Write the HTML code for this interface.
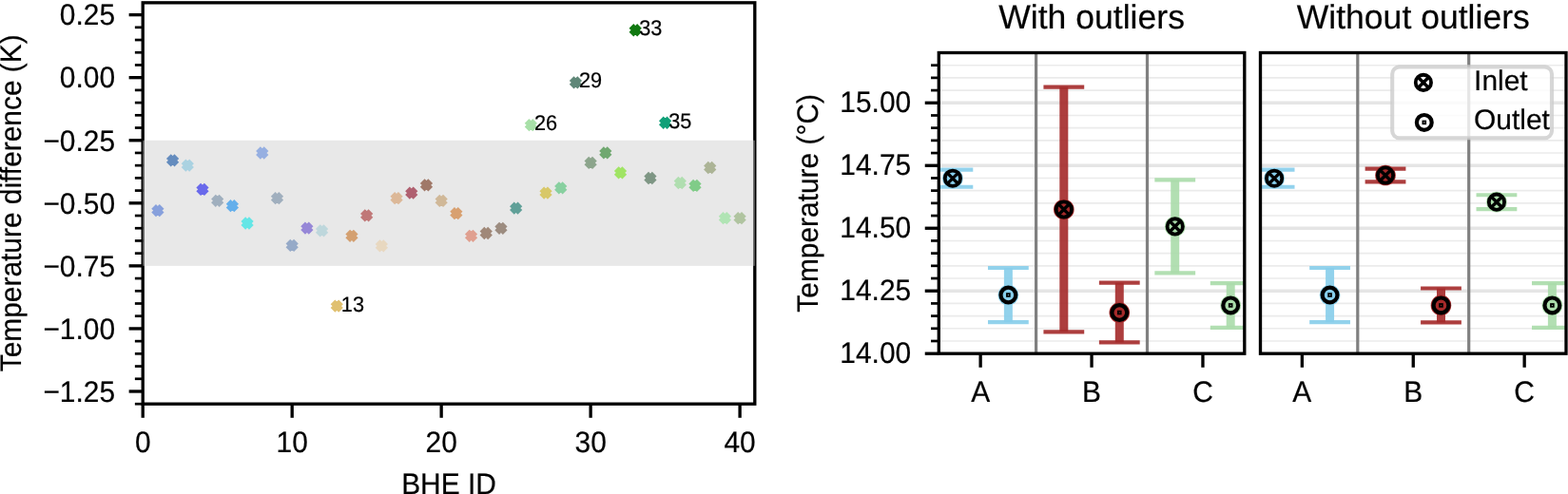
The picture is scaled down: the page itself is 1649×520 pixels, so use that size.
<!DOCTYPE html>
<html><head><meta charset="utf-8"><title>BHE temperature plots</title>
<style>html,body{margin:0;padding:0;background:#fff;}svg{display:block;}text{font-family:"Liberation Sans", sans-serif;fill:#000;text-rendering:geometricPrecision;stroke:#000;stroke-width:0.2px;}</style>
</head><body>
<svg width="1649" height="520" viewBox="0 0 1649 520">
<rect width="1649" height="520" fill="#fff"/>
<rect x="150.2" y="147.74" width="643.60" height="132.12" fill="#e8e8e8"/>
<polygon points="164.00,217.80 165.90,219.70 167.80,217.80 169.70,219.70 167.80,221.60 169.70,223.50 167.80,225.40 165.90,223.50 164.00,225.40 162.10,223.50 164.00,221.60 162.10,219.70" fill="#87a0dc" stroke="#87a0dc" stroke-width="4.0" stroke-linejoin="miter"/>
<polygon points="179.70,165.00 181.60,166.90 183.50,165.00 185.40,166.90 183.50,168.80 185.40,170.70 183.50,172.60 181.60,170.70 179.70,172.60 177.80,170.70 179.70,168.80 177.80,166.90" fill="#648cbe" stroke="#648cbe" stroke-width="4.0" stroke-linejoin="miter"/>
<polygon points="195.39,170.40 197.29,172.30 199.19,170.40 201.09,172.30 199.19,174.20 201.09,176.10 199.19,178.00 197.29,176.10 195.39,178.00 193.49,176.10 195.39,174.20 193.49,172.30" fill="#aad2e1" stroke="#aad2e1" stroke-width="4.0" stroke-linejoin="miter"/>
<polygon points="211.09,195.60 212.99,197.50 214.89,195.60 216.79,197.50 214.89,199.40 216.79,201.30 214.89,203.20 212.99,201.30 211.09,203.20 209.19,201.30 211.09,199.40 209.19,197.50" fill="#6969eb" stroke="#6969eb" stroke-width="4.0" stroke-linejoin="miter"/>
<polygon points="226.79,207.50 228.69,209.40 230.59,207.50 232.49,209.40 230.59,211.30 232.49,213.20 230.59,215.10 228.69,213.20 226.79,215.10 224.89,213.20 226.79,211.30 224.89,209.40" fill="#a0afbe" stroke="#a0afbe" stroke-width="4.0" stroke-linejoin="miter"/>
<polygon points="242.49,212.90 244.39,214.80 246.29,212.90 248.19,214.80 246.29,216.70 248.19,218.60 246.29,220.50 244.39,218.60 242.49,220.50 240.59,218.60 242.49,216.70 240.59,214.80" fill="#64afeb" stroke="#64afeb" stroke-width="4.0" stroke-linejoin="miter"/>
<polygon points="258.18,231.20 260.08,233.10 261.98,231.20 263.88,233.10 261.98,235.00 263.88,236.90 261.98,238.80 260.08,236.90 258.18,238.80 256.28,236.90 258.18,235.00 256.28,233.10" fill="#64e6e6" stroke="#64e6e6" stroke-width="4.0" stroke-linejoin="miter"/>
<polygon points="273.88,157.20 275.78,159.10 277.68,157.20 279.58,159.10 277.68,161.00 279.58,162.90 277.68,164.80 275.78,162.90 273.88,164.80 271.98,162.90 273.88,161.00 271.98,159.10" fill="#96afe1" stroke="#96afe1" stroke-width="4.0" stroke-linejoin="miter"/>
<polygon points="289.58,204.80 291.48,206.70 293.38,204.80 295.28,206.70 293.38,208.60 295.28,210.50 293.38,212.40 291.48,210.50 289.58,212.40 287.68,210.50 289.58,208.60 287.68,206.70" fill="#a0afbe" stroke="#a0afbe" stroke-width="4.0" stroke-linejoin="miter"/>
<polygon points="305.28,254.60 307.18,256.50 309.08,254.60 310.98,256.50 309.08,258.40 310.98,260.30 309.08,262.20 307.18,260.30 305.28,262.20 303.38,260.30 305.28,258.40 303.38,256.50" fill="#96aac8" stroke="#96aac8" stroke-width="4.0" stroke-linejoin="miter"/>
<polygon points="320.97,236.30 322.87,238.20 324.77,236.30 326.67,238.20 324.77,240.10 326.67,242.00 324.77,243.90 322.87,242.00 320.97,243.90 319.07,242.00 320.97,240.10 319.07,238.20" fill="#9687d7" stroke="#9687d7" stroke-width="4.0" stroke-linejoin="miter"/>
<polygon points="336.67,239.00 338.57,240.90 340.47,239.00 342.37,240.90 340.47,242.80 342.37,244.70 340.47,246.60 338.57,244.70 336.67,246.60 334.77,244.70 336.67,242.80 334.77,240.90" fill="#bed7dc" stroke="#bed7dc" stroke-width="4.0" stroke-linejoin="miter"/>
<polygon points="352.37,318.40 354.27,320.30 356.17,318.40 358.07,320.30 356.17,322.20 358.07,324.10 356.17,326.00 354.27,324.10 352.37,326.00 350.47,324.10 352.37,322.20 350.47,320.30" fill="#e0c070" stroke="#e0c070" stroke-width="4.0" stroke-linejoin="miter"/>
<polygon points="368.07,244.50 369.97,246.40 371.87,244.50 373.77,246.40 371.87,248.30 373.77,250.20 371.87,252.10 369.97,250.20 368.07,252.10 366.17,250.20 368.07,248.30 366.17,246.40" fill="#d4a070" stroke="#d4a070" stroke-width="4.0" stroke-linejoin="miter"/>
<polygon points="383.76,223.00 385.66,224.90 387.56,223.00 389.46,224.90 387.56,226.80 389.46,228.70 387.56,230.60 385.66,228.70 383.76,230.60 381.86,228.70 383.76,226.80 381.86,224.90" fill="#c07878" stroke="#c07878" stroke-width="4.0" stroke-linejoin="miter"/>
<polygon points="399.46,255.00 401.36,256.90 403.26,255.00 405.16,256.90 403.26,258.80 405.16,260.70 403.26,262.60 401.36,260.70 399.46,262.60 397.56,260.70 399.46,258.80 397.56,256.90" fill="#e8d8c0" stroke="#e8d8c0" stroke-width="4.0" stroke-linejoin="miter"/>
<polygon points="415.16,204.80 417.06,206.70 418.96,204.80 420.86,206.70 418.96,208.60 420.86,210.50 418.96,212.40 417.06,210.50 415.16,212.40 413.26,210.50 415.16,208.60 413.26,206.70" fill="#dcb898" stroke="#dcb898" stroke-width="4.0" stroke-linejoin="miter"/>
<polygon points="430.86,199.30 432.76,201.20 434.66,199.30 436.56,201.20 434.66,203.10 436.56,205.00 434.66,206.90 432.76,205.00 430.86,206.90 428.96,205.00 430.86,203.10 428.96,201.20" fill="#b06070" stroke="#b06070" stroke-width="4.0" stroke-linejoin="miter"/>
<polygon points="446.55,191.00 448.45,192.90 450.35,191.00 452.25,192.90 450.35,194.80 452.25,196.70 450.35,198.60 448.45,196.70 446.55,198.60 444.65,196.70 446.55,194.80 444.65,192.90" fill="#a07868" stroke="#a07868" stroke-width="4.0" stroke-linejoin="miter"/>
<polygon points="462.25,207.60 464.15,209.50 466.05,207.60 467.95,209.50 466.05,211.40 467.95,213.30 466.05,215.20 464.15,213.30 462.25,215.20 460.35,213.30 462.25,211.40 460.35,209.50" fill="#d0b898" stroke="#d0b898" stroke-width="4.0" stroke-linejoin="miter"/>
<polygon points="477.95,220.80 479.85,222.70 481.75,220.80 483.65,222.70 481.75,224.60 483.65,226.50 481.75,228.40 479.85,226.50 477.95,228.40 476.05,226.50 477.95,224.60 476.05,222.70" fill="#d8a070" stroke="#d8a070" stroke-width="4.0" stroke-linejoin="miter"/>
<polygon points="493.65,244.50 495.55,246.40 497.45,244.50 499.35,246.40 497.45,248.30 499.35,250.20 497.45,252.10 495.55,250.20 493.65,252.10 491.75,250.20 493.65,248.30 491.75,246.40" fill="#e0a090" stroke="#e0a090" stroke-width="4.0" stroke-linejoin="miter"/>
<polygon points="509.34,241.70 511.24,243.60 513.14,241.70 515.04,243.60 513.14,245.50 515.04,247.40 513.14,249.30 511.24,247.40 509.34,249.30 507.44,247.40 509.34,245.50 507.44,243.60" fill="#a08878" stroke="#a08878" stroke-width="4.0" stroke-linejoin="miter"/>
<polygon points="525.04,236.50 526.94,238.40 528.84,236.50 530.74,238.40 528.84,240.30 530.74,242.20 528.84,244.10 526.94,242.20 525.04,244.10 523.14,242.20 525.04,240.30 523.14,238.40" fill="#9c8c80" stroke="#9c8c80" stroke-width="4.0" stroke-linejoin="miter"/>
<polygon points="540.74,215.30 542.64,217.20 544.54,215.30 546.44,217.20 544.54,219.10 546.44,221.00 544.54,222.90 542.64,221.00 540.74,222.90 538.84,221.00 540.74,219.10 538.84,217.20" fill="#60a098" stroke="#60a098" stroke-width="4.0" stroke-linejoin="miter"/>
<polygon points="556.44,127.90 558.34,129.80 560.24,127.90 562.14,129.80 560.24,131.70 562.14,133.60 560.24,135.50 558.34,133.60 556.44,135.50 554.54,133.60 556.44,131.70 554.54,129.80" fill="#a8e0a8" stroke="#a8e0a8" stroke-width="4.0" stroke-linejoin="miter"/>
<polygon points="572.13,199.30 574.03,201.20 575.93,199.30 577.83,201.20 575.93,203.10 577.83,205.00 575.93,206.90 574.03,205.00 572.13,206.90 570.23,205.00 572.13,203.10 570.23,201.20" fill="#d8c868" stroke="#d8c868" stroke-width="4.0" stroke-linejoin="miter"/>
<polygon points="587.83,194.00 589.73,195.90 591.63,194.00 593.53,195.90 591.63,197.80 593.53,199.70 591.63,201.60 589.73,199.70 587.83,201.60 585.93,199.70 587.83,197.80 585.93,195.90" fill="#88d0a0" stroke="#88d0a0" stroke-width="4.0" stroke-linejoin="miter"/>
<polygon points="603.53,83.10 605.43,85.00 607.33,83.10 609.23,85.00 607.33,86.90 609.23,88.80 607.33,90.70 605.43,88.80 603.53,90.70 601.63,88.80 603.53,86.90 601.63,85.00" fill="#5f8778" stroke="#5f8778" stroke-width="4.0" stroke-linejoin="miter"/>
<polygon points="619.23,167.60 621.13,169.50 623.03,167.60 624.93,169.50 623.03,171.40 624.93,173.30 623.03,175.20 621.13,173.30 619.23,175.20 617.33,173.30 619.23,171.40 617.33,169.50" fill="#8ca58c" stroke="#8ca58c" stroke-width="4.0" stroke-linejoin="miter"/>
<polygon points="634.92,157.10 636.82,159.00 638.72,157.10 640.62,159.00 638.72,160.90 640.62,162.80 638.72,164.70 636.82,162.80 634.92,164.70 633.02,162.80 634.92,160.90 633.02,159.00" fill="#70a870" stroke="#70a870" stroke-width="4.0" stroke-linejoin="miter"/>
<polygon points="650.62,178.00 652.52,179.90 654.42,178.00 656.32,179.90 654.42,181.80 656.32,183.70 654.42,185.60 652.52,183.70 650.62,185.60 648.72,183.70 650.62,181.80 648.72,179.90" fill="#a0e464" stroke="#a0e464" stroke-width="4.0" stroke-linejoin="miter"/>
<polygon points="666.32,27.95 668.22,29.85 670.12,27.95 672.02,29.85 670.12,31.75 672.02,33.65 670.12,35.55 668.22,33.65 666.32,35.55 664.42,33.65 666.32,31.75 664.42,29.85" fill="#107810" stroke="#107810" stroke-width="4.0" stroke-linejoin="miter"/>
<polygon points="682.02,183.70 683.92,185.60 685.82,183.70 687.72,185.60 685.82,187.50 687.72,189.40 685.82,191.30 683.92,189.40 682.02,191.30 680.12,189.40 682.02,187.50 680.12,185.60" fill="#7e9684" stroke="#7e9684" stroke-width="4.0" stroke-linejoin="miter"/>
<polygon points="697.71,125.45 699.61,127.35 701.51,125.45 703.41,127.35 701.51,129.25 703.41,131.15 701.51,133.05 699.61,131.15 697.71,133.05 695.81,131.15 697.71,129.25 695.81,127.35" fill="#10a078" stroke="#10a078" stroke-width="4.0" stroke-linejoin="miter"/>
<polygon points="713.41,188.70 715.31,190.60 717.21,188.70 719.11,190.60 717.21,192.50 719.11,194.40 717.21,196.30 715.31,194.40 713.41,196.30 711.51,194.40 713.41,192.50 711.51,190.60" fill="#b0deb0" stroke="#b0deb0" stroke-width="4.0" stroke-linejoin="miter"/>
<polygon points="729.11,191.60 731.01,193.50 732.91,191.60 734.81,193.50 732.91,195.40 734.81,197.30 732.91,199.20 731.01,197.30 729.11,199.20 727.21,197.30 729.11,195.40 727.21,193.50" fill="#80cc88" stroke="#80cc88" stroke-width="4.0" stroke-linejoin="miter"/>
<polygon points="744.81,172.70 746.71,174.60 748.61,172.70 750.51,174.60 748.61,176.50 750.51,178.40 748.61,180.30 746.71,178.40 744.81,180.30 742.91,178.40 744.81,176.50 742.91,174.60" fill="#acb496" stroke="#acb496" stroke-width="4.0" stroke-linejoin="miter"/>
<polygon points="760.50,225.80 762.40,227.70 764.30,225.80 766.20,227.70 764.30,229.60 766.20,231.50 764.30,233.40 762.40,231.50 760.50,233.40 758.60,231.50 760.50,229.60 758.60,227.70" fill="#b0e4b4" stroke="#b0e4b4" stroke-width="4.0" stroke-linejoin="miter"/>
<polygon points="776.20,225.80 778.10,227.70 780.00,225.80 781.90,227.70 780.00,229.60 781.90,231.50 780.00,233.40 778.10,231.50 776.20,233.40 774.30,231.50 776.20,229.60 774.30,227.70" fill="#b0c4a0" stroke="#b0c4a0" stroke-width="4.0" stroke-linejoin="miter"/>
<text transform="translate(358.85,328.10) scale(1,1.04)" font-size="21.7">13</text>
<text transform="translate(562.00,136.80) scale(1,1.04)" font-size="21.7">26</text>
<text transform="translate(609.00,91.80) scale(1,1.04)" font-size="21.7">29</text>
<text transform="translate(672.20,36.80) scale(1,1.04)" font-size="21.7">33</text>
<text transform="translate(703.30,134.80) scale(1,1.04)" font-size="21.7">35</text>
<rect x="150.2" y="2.85" width="643.60" height="422.35" fill="none" stroke="#000" stroke-width="3.33" stroke-linejoin="miter"/>
<rect x="150.2" y="147.74" width="1.67" height="132.12" fill="#d3d3d3" fill-opacity="0.5"/>
<rect x="792.13" y="147.74" width="1.67" height="132.12" fill="#d3d3d3" fill-opacity="0.5"/>
<line x1="135.62" y1="15.61" x2="150.2" y2="15.61" stroke="#000" stroke-width="3.33"/>
<text transform="translate(121.04,25.71) scale(1,1.04)" font-size="29.9" text-anchor="end">0.25</text>
<line x1="135.62" y1="81.67" x2="150.2" y2="81.67" stroke="#000" stroke-width="3.33"/>
<text transform="translate(121.04,91.88) scale(1,1.04)" font-size="29.9" text-anchor="end">0.00</text>
<line x1="135.62" y1="147.74" x2="150.2" y2="147.74" stroke="#000" stroke-width="3.33"/>
<text transform="translate(121.04,158.64) scale(1,1.04)" font-size="29.9" text-anchor="end">−0.25</text>
<line x1="135.62" y1="213.80" x2="150.2" y2="213.80" stroke="#000" stroke-width="3.33"/>
<text transform="translate(121.04,224.94) scale(1,1.04)" font-size="29.9" text-anchor="end">−0.50</text>
<line x1="135.62" y1="279.86" x2="150.2" y2="279.86" stroke="#000" stroke-width="3.33"/>
<text transform="translate(121.04,290.81) scale(1,1.04)" font-size="29.9" text-anchor="end">−0.75</text>
<line x1="135.62" y1="345.92" x2="150.2" y2="345.92" stroke="#000" stroke-width="3.33"/>
<text transform="translate(121.04,356.82) scale(1,1.04)" font-size="29.9" text-anchor="end">−1.00</text>
<line x1="135.62" y1="411.99" x2="150.2" y2="411.99" stroke="#000" stroke-width="3.33"/>
<text transform="translate(121.04,422.84) scale(1,1.04)" font-size="29.9" text-anchor="end">−1.25</text>
<line x1="141.87" y1="425.20" x2="150.2" y2="425.20" stroke="#000" stroke-width="2.7"/>
<line x1="141.87" y1="398.78" x2="150.2" y2="398.78" stroke="#000" stroke-width="2.7"/>
<line x1="141.87" y1="385.56" x2="150.2" y2="385.56" stroke="#000" stroke-width="2.7"/>
<line x1="141.87" y1="372.35" x2="150.2" y2="372.35" stroke="#000" stroke-width="2.7"/>
<line x1="141.87" y1="359.14" x2="150.2" y2="359.14" stroke="#000" stroke-width="2.7"/>
<line x1="141.87" y1="332.71" x2="150.2" y2="332.71" stroke="#000" stroke-width="2.7"/>
<line x1="141.87" y1="319.50" x2="150.2" y2="319.50" stroke="#000" stroke-width="2.7"/>
<line x1="141.87" y1="306.29" x2="150.2" y2="306.29" stroke="#000" stroke-width="2.7"/>
<line x1="141.87" y1="293.07" x2="150.2" y2="293.07" stroke="#000" stroke-width="2.7"/>
<line x1="141.87" y1="266.65" x2="150.2" y2="266.65" stroke="#000" stroke-width="2.7"/>
<line x1="141.87" y1="253.44" x2="150.2" y2="253.44" stroke="#000" stroke-width="2.7"/>
<line x1="141.87" y1="240.23" x2="150.2" y2="240.23" stroke="#000" stroke-width="2.7"/>
<line x1="141.87" y1="227.01" x2="150.2" y2="227.01" stroke="#000" stroke-width="2.7"/>
<line x1="141.87" y1="200.59" x2="150.2" y2="200.59" stroke="#000" stroke-width="2.7"/>
<line x1="141.87" y1="187.37" x2="150.2" y2="187.37" stroke="#000" stroke-width="2.7"/>
<line x1="141.87" y1="174.16" x2="150.2" y2="174.16" stroke="#000" stroke-width="2.7"/>
<line x1="141.87" y1="160.95" x2="150.2" y2="160.95" stroke="#000" stroke-width="2.7"/>
<line x1="141.87" y1="134.53" x2="150.2" y2="134.53" stroke="#000" stroke-width="2.7"/>
<line x1="141.87" y1="121.31" x2="150.2" y2="121.31" stroke="#000" stroke-width="2.7"/>
<line x1="141.87" y1="108.10" x2="150.2" y2="108.10" stroke="#000" stroke-width="2.7"/>
<line x1="141.87" y1="94.89" x2="150.2" y2="94.89" stroke="#000" stroke-width="2.7"/>
<line x1="141.87" y1="68.46" x2="150.2" y2="68.46" stroke="#000" stroke-width="2.7"/>
<line x1="141.87" y1="55.25" x2="150.2" y2="55.25" stroke="#000" stroke-width="2.7"/>
<line x1="141.87" y1="42.04" x2="150.2" y2="42.04" stroke="#000" stroke-width="2.7"/>
<line x1="141.87" y1="28.82" x2="150.2" y2="28.82" stroke="#000" stroke-width="2.7"/>
<line x1="150.20" y1="425.2" x2="150.20" y2="439.78" stroke="#000" stroke-width="3.33"/>
<text transform="translate(150.20,475.90) scale(1,1.04)" font-size="29.9" text-anchor="middle">0</text>
<line x1="307.18" y1="425.2" x2="307.18" y2="439.78" stroke="#000" stroke-width="3.33"/>
<text transform="translate(307.18,475.90) scale(1,1.04)" font-size="29.9" text-anchor="middle">10</text>
<line x1="464.15" y1="425.2" x2="464.15" y2="439.78" stroke="#000" stroke-width="3.33"/>
<text transform="translate(464.15,475.90) scale(1,1.04)" font-size="29.9" text-anchor="middle">20</text>
<line x1="621.13" y1="425.2" x2="621.13" y2="439.78" stroke="#000" stroke-width="3.33"/>
<text transform="translate(621.13,475.90) scale(1,1.04)" font-size="29.9" text-anchor="middle">30</text>
<line x1="778.10" y1="425.2" x2="778.10" y2="439.78" stroke="#000" stroke-width="3.33"/>
<text transform="translate(778.10,475.90) scale(1,1.04)" font-size="29.9" text-anchor="middle">40</text>
<text transform="translate(472.00,519.60) scale(1,1.04)" font-size="29.9" text-anchor="middle">BHE ID</text>
<text transform="translate(21.50,213.80) rotate(-90) scale(1,1.04)" font-size="29.9" text-anchor="middle">Temperature difference (K)</text>
<svg x="987.3" y="55.5" width="321.50" height="316.70" viewBox="987.3 55.5 321.50 316.70" overflow="hidden">
<line x1="987.3" y1="372.20" x2="1308.8" y2="372.20" stroke="#e5e5e5" stroke-width="3.33"/>
<line x1="987.3" y1="359.00" x2="1308.8" y2="359.00" stroke="#ebebeb" stroke-width="1.6"/>
<line x1="987.3" y1="345.81" x2="1308.8" y2="345.81" stroke="#ebebeb" stroke-width="1.6"/>
<line x1="987.3" y1="332.61" x2="1308.8" y2="332.61" stroke="#ebebeb" stroke-width="1.6"/>
<line x1="987.3" y1="319.42" x2="1308.8" y2="319.42" stroke="#ebebeb" stroke-width="1.6"/>
<line x1="987.3" y1="306.22" x2="1308.8" y2="306.22" stroke="#e5e5e5" stroke-width="3.33"/>
<line x1="987.3" y1="293.02" x2="1308.8" y2="293.02" stroke="#ebebeb" stroke-width="1.6"/>
<line x1="987.3" y1="279.83" x2="1308.8" y2="279.83" stroke="#ebebeb" stroke-width="1.6"/>
<line x1="987.3" y1="266.63" x2="1308.8" y2="266.63" stroke="#ebebeb" stroke-width="1.6"/>
<line x1="987.3" y1="253.44" x2="1308.8" y2="253.44" stroke="#ebebeb" stroke-width="1.6"/>
<line x1="987.3" y1="240.24" x2="1308.8" y2="240.24" stroke="#e5e5e5" stroke-width="3.33"/>
<line x1="987.3" y1="227.05" x2="1308.8" y2="227.05" stroke="#ebebeb" stroke-width="1.6"/>
<line x1="987.3" y1="213.85" x2="1308.8" y2="213.85" stroke="#ebebeb" stroke-width="1.6"/>
<line x1="987.3" y1="200.65" x2="1308.8" y2="200.65" stroke="#ebebeb" stroke-width="1.6"/>
<line x1="987.3" y1="187.46" x2="1308.8" y2="187.46" stroke="#ebebeb" stroke-width="1.6"/>
<line x1="987.3" y1="174.26" x2="1308.8" y2="174.26" stroke="#e5e5e5" stroke-width="3.33"/>
<line x1="987.3" y1="161.07" x2="1308.8" y2="161.07" stroke="#ebebeb" stroke-width="1.6"/>
<line x1="987.3" y1="147.87" x2="1308.8" y2="147.87" stroke="#ebebeb" stroke-width="1.6"/>
<line x1="987.3" y1="134.67" x2="1308.8" y2="134.67" stroke="#ebebeb" stroke-width="1.6"/>
<line x1="987.3" y1="121.48" x2="1308.8" y2="121.48" stroke="#ebebeb" stroke-width="1.6"/>
<line x1="987.3" y1="108.28" x2="1308.8" y2="108.28" stroke="#e5e5e5" stroke-width="3.33"/>
<line x1="987.3" y1="95.09" x2="1308.8" y2="95.09" stroke="#ebebeb" stroke-width="1.6"/>
<line x1="987.3" y1="81.89" x2="1308.8" y2="81.89" stroke="#ebebeb" stroke-width="1.6"/>
<line x1="987.3" y1="68.70" x2="1308.8" y2="68.70" stroke="#ebebeb" stroke-width="1.6"/>
<line x1="987.3" y1="55.50" x2="1308.8" y2="55.50" stroke="#ebebeb" stroke-width="1.6"/>
<line x1="1089.60" y1="55.5" x2="1089.60" y2="372.2" stroke="#808080" stroke-width="3.2"/>
<line x1="1206.50" y1="55.5" x2="1206.50" y2="372.2" stroke="#808080" stroke-width="3.2"/>
<g opacity="0.9"><line x1="1001.91" y1="178.70" x2="1001.91" y2="196.75" stroke="rgb(135,206,235)" stroke-width="9"/></g>
<g opacity="0.9"><line x1="980.51" y1="178.70" x2="1023.31" y2="178.70" stroke="rgb(135,206,235)" stroke-width="4.2"/><line x1="980.51" y1="196.75" x2="1023.31" y2="196.75" stroke="rgb(135,206,235)" stroke-width="4.2"/></g>
<circle cx="1001.91" cy="187.72" r="10.8" fill="rgb(135,206,235)"/>
<circle cx="1001.91" cy="187.72" r="8.15" fill="none" stroke="#000" stroke-width="3.8"/><path d="M997.03,182.84L1006.79,192.60M997.03,192.60L1006.79,182.84" stroke="#000" stroke-width="3.4"/>
<g opacity="0.9"><line x1="1060.37" y1="282.02" x2="1060.37" y2="339.03" stroke="rgb(135,206,235)" stroke-width="9"/></g>
<g opacity="0.9"><line x1="1038.97" y1="282.02" x2="1081.77" y2="282.02" stroke="rgb(135,206,235)" stroke-width="4.2"/><line x1="1038.97" y1="339.03" x2="1081.77" y2="339.03" stroke="rgb(135,206,235)" stroke-width="4.2"/></g>
<circle cx="1060.37" cy="310.52" r="10.8" fill="rgb(135,206,235)"/>
<circle cx="1060.37" cy="310.52" r="7.9" fill="none" stroke="#000" stroke-width="4.2"/><rect x="1058.97" y="309.12" width="2.8" height="2.8" fill="none" stroke="#000" stroke-width="1.8"/>
<g opacity="0.9"><line x1="1118.82" y1="91.55" x2="1118.82" y2="349.34" stroke="rgb(165,42,42)" stroke-width="9"/></g>
<g opacity="0.9"><line x1="1097.42" y1="91.55" x2="1140.22" y2="91.55" stroke="rgb(165,42,42)" stroke-width="4.2"/><line x1="1097.42" y1="349.34" x2="1140.22" y2="349.34" stroke="rgb(165,42,42)" stroke-width="4.2"/></g>
<circle cx="1118.82" cy="220.45" r="10.8" fill="rgb(165,42,42)"/>
<circle cx="1118.82" cy="220.45" r="8.15" fill="none" stroke="#000" stroke-width="3.8"/><path d="M1113.94,215.57L1123.70,225.33M1113.94,225.33L1123.70,215.57" stroke="#000" stroke-width="3.4"/>
<g opacity="0.9"><line x1="1177.28" y1="297.67" x2="1177.28" y2="360.38" stroke="rgb(165,42,42)" stroke-width="9"/></g>
<g opacity="0.9"><line x1="1155.88" y1="297.67" x2="1198.68" y2="297.67" stroke="rgb(165,42,42)" stroke-width="4.2"/><line x1="1155.88" y1="360.38" x2="1198.68" y2="360.38" stroke="rgb(165,42,42)" stroke-width="4.2"/></g>
<circle cx="1177.28" cy="329.02" r="10.8" fill="rgb(165,42,42)"/>
<circle cx="1177.28" cy="329.02" r="7.9" fill="none" stroke="#000" stroke-width="4.2"/><rect x="1175.88" y="327.62" width="2.8" height="2.8" fill="none" stroke="#000" stroke-width="1.8"/>
<g opacity="0.9"><line x1="1235.73" y1="189.41" x2="1235.73" y2="287.38" stroke="rgb(170,220,170)" stroke-width="9"/></g>
<g opacity="0.9"><line x1="1214.33" y1="189.41" x2="1257.13" y2="189.41" stroke="rgb(170,220,170)" stroke-width="4.2"/><line x1="1214.33" y1="287.38" x2="1257.13" y2="287.38" stroke="rgb(170,220,170)" stroke-width="4.2"/></g>
<circle cx="1235.73" cy="238.39" r="10.8" fill="rgb(170,220,170)"/>
<circle cx="1235.73" cy="238.39" r="8.15" fill="none" stroke="#000" stroke-width="3.8"/><path d="M1230.85,233.52L1240.61,243.27M1230.85,243.27L1240.61,233.52" stroke="#000" stroke-width="3.4"/>
<g opacity="0.9"><line x1="1294.19" y1="298.04" x2="1294.19" y2="344.81" stroke="rgb(170,220,170)" stroke-width="9"/></g>
<g opacity="0.9"><line x1="1272.79" y1="298.04" x2="1315.59" y2="298.04" stroke="rgb(170,220,170)" stroke-width="4.2"/><line x1="1272.79" y1="344.81" x2="1315.59" y2="344.81" stroke="rgb(170,220,170)" stroke-width="4.2"/></g>
<circle cx="1294.19" cy="321.42" r="10.8" fill="rgb(170,220,170)"/>
<circle cx="1294.19" cy="321.42" r="7.9" fill="none" stroke="#000" stroke-width="4.2"/><rect x="1292.79" y="320.02" width="2.8" height="2.8" fill="none" stroke="#000" stroke-width="1.8"/>
</svg>
<rect x="987.3" y="55.5" width="321.50" height="316.70" fill="none" stroke="#000" stroke-width="3.33" stroke-linejoin="miter"/>
<line x1="1031.14" y1="372.2" x2="1031.14" y2="386.78" stroke="#000" stroke-width="3.33"/>
<text transform="translate(1031.14,423.10) scale(1,1.04)" font-size="29.9" text-anchor="middle">A</text>
<line x1="1148.05" y1="372.2" x2="1148.05" y2="386.78" stroke="#000" stroke-width="3.33"/>
<text transform="translate(1148.05,423.10) scale(1,1.04)" font-size="29.9" text-anchor="middle">B</text>
<line x1="1264.96" y1="372.2" x2="1264.96" y2="386.78" stroke="#000" stroke-width="3.33"/>
<text transform="translate(1264.96,423.10) scale(1,1.04)" font-size="29.9" text-anchor="middle">C</text>
<text transform="translate(1148.05,30.00) scale(1,1.0)" font-size="35.6" text-anchor="middle">With outliers</text>
<svg x="1325.5" y="55.5" width="321.50" height="316.70" viewBox="1325.5 55.5 321.50 316.70" overflow="hidden">
<line x1="1325.5" y1="372.20" x2="1647.0" y2="372.20" stroke="#e5e5e5" stroke-width="3.33"/>
<line x1="1325.5" y1="359.00" x2="1647.0" y2="359.00" stroke="#ebebeb" stroke-width="1.6"/>
<line x1="1325.5" y1="345.81" x2="1647.0" y2="345.81" stroke="#ebebeb" stroke-width="1.6"/>
<line x1="1325.5" y1="332.61" x2="1647.0" y2="332.61" stroke="#ebebeb" stroke-width="1.6"/>
<line x1="1325.5" y1="319.42" x2="1647.0" y2="319.42" stroke="#ebebeb" stroke-width="1.6"/>
<line x1="1325.5" y1="306.22" x2="1647.0" y2="306.22" stroke="#e5e5e5" stroke-width="3.33"/>
<line x1="1325.5" y1="293.02" x2="1647.0" y2="293.02" stroke="#ebebeb" stroke-width="1.6"/>
<line x1="1325.5" y1="279.83" x2="1647.0" y2="279.83" stroke="#ebebeb" stroke-width="1.6"/>
<line x1="1325.5" y1="266.63" x2="1647.0" y2="266.63" stroke="#ebebeb" stroke-width="1.6"/>
<line x1="1325.5" y1="253.44" x2="1647.0" y2="253.44" stroke="#ebebeb" stroke-width="1.6"/>
<line x1="1325.5" y1="240.24" x2="1647.0" y2="240.24" stroke="#e5e5e5" stroke-width="3.33"/>
<line x1="1325.5" y1="227.05" x2="1647.0" y2="227.05" stroke="#ebebeb" stroke-width="1.6"/>
<line x1="1325.5" y1="213.85" x2="1647.0" y2="213.85" stroke="#ebebeb" stroke-width="1.6"/>
<line x1="1325.5" y1="200.65" x2="1647.0" y2="200.65" stroke="#ebebeb" stroke-width="1.6"/>
<line x1="1325.5" y1="187.46" x2="1647.0" y2="187.46" stroke="#ebebeb" stroke-width="1.6"/>
<line x1="1325.5" y1="174.26" x2="1647.0" y2="174.26" stroke="#e5e5e5" stroke-width="3.33"/>
<line x1="1325.5" y1="161.07" x2="1647.0" y2="161.07" stroke="#ebebeb" stroke-width="1.6"/>
<line x1="1325.5" y1="147.87" x2="1647.0" y2="147.87" stroke="#ebebeb" stroke-width="1.6"/>
<line x1="1325.5" y1="134.67" x2="1647.0" y2="134.67" stroke="#ebebeb" stroke-width="1.6"/>
<line x1="1325.5" y1="121.48" x2="1647.0" y2="121.48" stroke="#ebebeb" stroke-width="1.6"/>
<line x1="1325.5" y1="108.28" x2="1647.0" y2="108.28" stroke="#e5e5e5" stroke-width="3.33"/>
<line x1="1325.5" y1="95.09" x2="1647.0" y2="95.09" stroke="#ebebeb" stroke-width="1.6"/>
<line x1="1325.5" y1="81.89" x2="1647.0" y2="81.89" stroke="#ebebeb" stroke-width="1.6"/>
<line x1="1325.5" y1="68.70" x2="1647.0" y2="68.70" stroke="#ebebeb" stroke-width="1.6"/>
<line x1="1325.5" y1="55.50" x2="1647.0" y2="55.50" stroke="#ebebeb" stroke-width="1.6"/>
<line x1="1427.80" y1="55.5" x2="1427.80" y2="372.2" stroke="#808080" stroke-width="3.2"/>
<line x1="1544.70" y1="55.5" x2="1544.70" y2="372.2" stroke="#808080" stroke-width="3.2"/>
<g opacity="0.9"><line x1="1340.11" y1="178.70" x2="1340.11" y2="196.75" stroke="rgb(135,206,235)" stroke-width="9"/></g>
<g opacity="0.9"><line x1="1318.71" y1="178.70" x2="1361.51" y2="178.70" stroke="rgb(135,206,235)" stroke-width="4.2"/><line x1="1318.71" y1="196.75" x2="1361.51" y2="196.75" stroke="rgb(135,206,235)" stroke-width="4.2"/></g>
<circle cx="1340.11" cy="187.72" r="10.8" fill="rgb(135,206,235)"/>
<circle cx="1340.11" cy="187.72" r="8.15" fill="none" stroke="#000" stroke-width="3.8"/><path d="M1335.23,182.84L1344.99,192.60M1335.23,192.60L1344.99,182.84" stroke="#000" stroke-width="3.4"/>
<g opacity="0.9"><line x1="1398.57" y1="282.02" x2="1398.57" y2="339.03" stroke="rgb(135,206,235)" stroke-width="9"/></g>
<g opacity="0.9"><line x1="1377.17" y1="282.02" x2="1419.97" y2="282.02" stroke="rgb(135,206,235)" stroke-width="4.2"/><line x1="1377.17" y1="339.03" x2="1419.97" y2="339.03" stroke="rgb(135,206,235)" stroke-width="4.2"/></g>
<circle cx="1398.57" cy="310.52" r="10.8" fill="rgb(135,206,235)"/>
<circle cx="1398.57" cy="310.52" r="7.9" fill="none" stroke="#000" stroke-width="4.2"/><rect x="1397.17" y="309.12" width="2.8" height="2.8" fill="none" stroke="#000" stroke-width="1.8"/>
<g opacity="0.9"><line x1="1457.02" y1="177.69" x2="1457.02" y2="191.42" stroke="rgb(165,42,42)" stroke-width="9"/></g>
<g opacity="0.9"><line x1="1435.62" y1="177.69" x2="1478.42" y2="177.69" stroke="rgb(165,42,42)" stroke-width="4.2"/><line x1="1435.62" y1="191.42" x2="1478.42" y2="191.42" stroke="rgb(165,42,42)" stroke-width="4.2"/></g>
<circle cx="1457.02" cy="184.56" r="10.8" fill="rgb(165,42,42)"/>
<circle cx="1457.02" cy="184.56" r="8.15" fill="none" stroke="#000" stroke-width="3.8"/><path d="M1452.14,179.68L1461.90,189.43M1452.14,189.43L1461.90,179.68" stroke="#000" stroke-width="3.4"/>
<g opacity="0.9"><line x1="1515.48" y1="303.48" x2="1515.48" y2="339.37" stroke="rgb(165,42,42)" stroke-width="9"/></g>
<g opacity="0.9"><line x1="1494.08" y1="303.48" x2="1536.88" y2="303.48" stroke="rgb(165,42,42)" stroke-width="4.2"/><line x1="1494.08" y1="339.37" x2="1536.88" y2="339.37" stroke="rgb(165,42,42)" stroke-width="4.2"/></g>
<circle cx="1515.48" cy="321.42" r="10.8" fill="rgb(165,42,42)"/>
<circle cx="1515.48" cy="321.42" r="7.9" fill="none" stroke="#000" stroke-width="4.2"/><rect x="1514.08" y="320.02" width="2.8" height="2.8" fill="none" stroke="#000" stroke-width="1.8"/>
<g opacity="0.9"><line x1="1573.93" y1="205.27" x2="1573.93" y2="220.05" stroke="rgb(170,220,170)" stroke-width="9"/></g>
<g opacity="0.9"><line x1="1552.53" y1="205.27" x2="1595.33" y2="205.27" stroke="rgb(170,220,170)" stroke-width="4.2"/><line x1="1552.53" y1="220.05" x2="1595.33" y2="220.05" stroke="rgb(170,220,170)" stroke-width="4.2"/></g>
<circle cx="1573.93" cy="212.66" r="10.8" fill="rgb(170,220,170)"/>
<circle cx="1573.93" cy="212.66" r="8.15" fill="none" stroke="#000" stroke-width="3.8"/><path d="M1569.05,207.78L1578.81,217.54M1569.05,217.54L1578.81,207.78" stroke="#000" stroke-width="3.4"/>
<g opacity="0.9"><line x1="1632.39" y1="298.04" x2="1632.39" y2="344.81" stroke="rgb(170,220,170)" stroke-width="9"/></g>
<g opacity="0.9"><line x1="1610.99" y1="298.04" x2="1653.79" y2="298.04" stroke="rgb(170,220,170)" stroke-width="4.2"/><line x1="1610.99" y1="344.81" x2="1653.79" y2="344.81" stroke="rgb(170,220,170)" stroke-width="4.2"/></g>
<circle cx="1632.39" cy="321.42" r="10.8" fill="rgb(170,220,170)"/>
<circle cx="1632.39" cy="321.42" r="7.9" fill="none" stroke="#000" stroke-width="4.2"/><rect x="1630.99" y="320.02" width="2.8" height="2.8" fill="none" stroke="#000" stroke-width="1.8"/>
</svg>
<rect x="1325.5" y="55.5" width="321.50" height="316.70" fill="none" stroke="#000" stroke-width="3.33" stroke-linejoin="miter"/>
<line x1="1369.34" y1="372.2" x2="1369.34" y2="386.78" stroke="#000" stroke-width="3.33"/>
<text transform="translate(1369.34,423.10) scale(1,1.04)" font-size="29.9" text-anchor="middle">A</text>
<line x1="1486.25" y1="372.2" x2="1486.25" y2="386.78" stroke="#000" stroke-width="3.33"/>
<text transform="translate(1486.25,423.10) scale(1,1.04)" font-size="29.9" text-anchor="middle">B</text>
<line x1="1603.16" y1="372.2" x2="1603.16" y2="386.78" stroke="#000" stroke-width="3.33"/>
<text transform="translate(1603.16,423.10) scale(1,1.04)" font-size="29.9" text-anchor="middle">C</text>
<text transform="translate(1486.25,30.00) scale(1,1.0)" font-size="35.6" text-anchor="middle">Without outliers</text>
<line x1="972.72" y1="372.20" x2="987.3" y2="372.20" stroke="#000" stroke-width="3.33"/>
<text transform="translate(958.14,382.30) scale(1,1.04)" font-size="29.9" text-anchor="end">14.00</text>
<line x1="978.97" y1="359.00" x2="987.3" y2="359.00" stroke="#000" stroke-width="2.7"/>
<line x1="978.97" y1="345.81" x2="987.3" y2="345.81" stroke="#000" stroke-width="2.7"/>
<line x1="978.97" y1="332.61" x2="987.3" y2="332.61" stroke="#000" stroke-width="2.7"/>
<line x1="978.97" y1="319.42" x2="987.3" y2="319.42" stroke="#000" stroke-width="2.7"/>
<line x1="972.72" y1="306.22" x2="987.3" y2="306.22" stroke="#000" stroke-width="3.33"/>
<text transform="translate(958.14,316.32) scale(1,1.04)" font-size="29.9" text-anchor="end">14.25</text>
<line x1="978.97" y1="293.02" x2="987.3" y2="293.02" stroke="#000" stroke-width="2.7"/>
<line x1="978.97" y1="279.83" x2="987.3" y2="279.83" stroke="#000" stroke-width="2.7"/>
<line x1="978.97" y1="266.63" x2="987.3" y2="266.63" stroke="#000" stroke-width="2.7"/>
<line x1="978.97" y1="253.44" x2="987.3" y2="253.44" stroke="#000" stroke-width="2.7"/>
<line x1="972.72" y1="240.24" x2="987.3" y2="240.24" stroke="#000" stroke-width="3.33"/>
<text transform="translate(958.14,250.34) scale(1,1.04)" font-size="29.9" text-anchor="end">14.50</text>
<line x1="978.97" y1="227.05" x2="987.3" y2="227.05" stroke="#000" stroke-width="2.7"/>
<line x1="978.97" y1="213.85" x2="987.3" y2="213.85" stroke="#000" stroke-width="2.7"/>
<line x1="978.97" y1="200.65" x2="987.3" y2="200.65" stroke="#000" stroke-width="2.7"/>
<line x1="978.97" y1="187.46" x2="987.3" y2="187.46" stroke="#000" stroke-width="2.7"/>
<line x1="972.72" y1="174.26" x2="987.3" y2="174.26" stroke="#000" stroke-width="3.33"/>
<text transform="translate(958.14,184.36) scale(1,1.04)" font-size="29.9" text-anchor="end">14.75</text>
<line x1="978.97" y1="161.07" x2="987.3" y2="161.07" stroke="#000" stroke-width="2.7"/>
<line x1="978.97" y1="147.87" x2="987.3" y2="147.87" stroke="#000" stroke-width="2.7"/>
<line x1="978.97" y1="134.67" x2="987.3" y2="134.67" stroke="#000" stroke-width="2.7"/>
<line x1="978.97" y1="121.48" x2="987.3" y2="121.48" stroke="#000" stroke-width="2.7"/>
<line x1="972.72" y1="108.28" x2="987.3" y2="108.28" stroke="#000" stroke-width="3.33"/>
<text transform="translate(958.14,118.38) scale(1,1.04)" font-size="29.9" text-anchor="end">15.00</text>
<line x1="978.97" y1="95.09" x2="987.3" y2="95.09" stroke="#000" stroke-width="2.7"/>
<line x1="978.97" y1="81.89" x2="987.3" y2="81.89" stroke="#000" stroke-width="2.7"/>
<line x1="978.97" y1="68.70" x2="987.3" y2="68.70" stroke="#000" stroke-width="2.7"/>
<text transform="translate(859.70,213.85) rotate(-90) scale(1,1.04)" font-size="29.9" text-anchor="middle">Temperature (°C)</text>
<rect x="1464.2" y="70.4" width="167.8" height="74.9" rx="7.5" ry="7.5" fill="#fff" fill-opacity="0.8" stroke="#cccccc" stroke-opacity="0.8" stroke-width="4.1"/>
<circle cx="1496.90" cy="86.90" r="8.15" fill="none" stroke="#000" stroke-width="3.8"/><path d="M1492.02,82.02L1501.78,91.78M1492.02,91.78L1501.78,82.02" stroke="#000" stroke-width="3.4"/>
<circle cx="1497.80" cy="128.90" r="7.9" fill="none" stroke="#000" stroke-width="4.2"/><rect x="1496.40" y="127.50" width="2.8" height="2.8" fill="none" stroke="#000" stroke-width="1.8"/>
<text transform="translate(1550.10,94.60) scale(1,1.0)" font-size="29.9">Inlet</text>
<text transform="translate(1550.10,136.10) scale(1,1.0)" font-size="29.9">Outlet</text>
</svg>
</body></html>
